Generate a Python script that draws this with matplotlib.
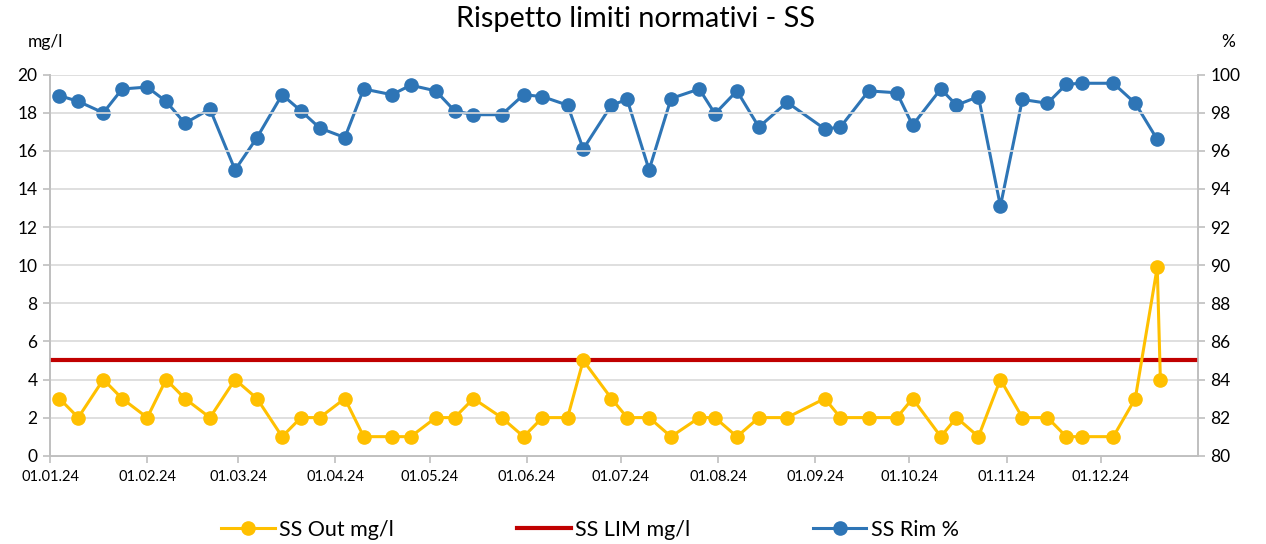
import matplotlib
matplotlib.use("Agg")
import matplotlib.pyplot as plt
from matplotlib.lines import Line2D
import numpy as np
import pandas as pd

plt.rcParams['font.family'] = ['Lato', 'DejaVu Sans']

# sampling dates (2024); the last out value has no matching removal %
dates = ['04.01', '10.01', '18.01', '24.01', '01.02', '07.02', '13.02', '21.02', '29.02',
         '07.03', '15.03', '21.03', '27.03', '04.04', '10.04', '19.04', '25.04',
         '03.05', '09.05', '15.05', '24.05', '31.05', '06.06', '14.06', '19.06',
         '28.06', '03.07', '10.07', '17.07', '26.07', '31.07', '07.08', '14.08',
         '23.08', '04.09', '09.09', '18.09', '27.09', '02.10', '11.10', '16.10',
         '23.10', '30.10', '06.11', '14.11', '20.11', '25.11', '05.12', '12.12',
         '19.12', '20.12']

ss_out = [3, 2, 4, 3, 2, 4, 3, 2, 4, 3, 1, 2, 2, 3, 1, 1, 1,
          2, 2, 3, 2, 1, 2, 2, 5, 3, 2, 2, 1, 2, 2, 1, 2,
          2, 3, 2, 2, 2, 3, 1, 2, 1, 4, 2, 2, 1, 1, 1, 3,
          9.9, 4]

ss_rim = [98.9, 98.6, 98.0, 99.25, 99.35, 98.6, 97.45, 98.2, 95.0, 96.7, 98.95,
          98.1, 97.2, 96.7, 99.25, 98.95, 99.45,
          99.15, 98.1, 97.9, 97.9, 98.95, 98.85, 98.4, 96.1, 98.4, 98.7, 95.0,
          98.75, 99.25, 97.95, 99.15, 97.25, 98.55, 97.15, 97.25,
          99.15, 99.05, 97.35, 99.25, 98.4, 98.85, 93.1, 98.7, 98.5, 99.5,
          99.55, 99.55, 98.5, 96.6]

ss_lim = 5
month_labels = ['01.01.24', '01.02.24', '01.03.24', '01.04.24', '01.05.24', '01.06.24',
                '01.07.24', '01.08.24', '01.09.24', '01.10.24', '01.11.24', '01.12.24']

x = pd.to_datetime([d + '.2024' for d in dates], format='%d.%m.%Y')
month_ticks = pd.to_datetime(month_labels, format='%d.%m.%y')
x_start = pd.Timestamp('2024-01-01')
x_end = pd.Timestamp('2025-01-01')

YELLOW = '#FFC000'
RED = '#C00000'
BLUE = '#2E75B6'
GRID = '#D9D9D9'
AXIS = '#BFBFBF'

fig = plt.figure(figsize=(12.66, 5.44), dpi=100)
ax = fig.add_axes([0.0395, 0.1623, 0.9068, 0.7004])
ax2 = ax.twinx()

ax.plot(x, ss_out, color=YELLOW, lw=2.2, marker='o', ms=9.5, zorder=3)
ax.plot([x_start, x_end], [ss_lim, ss_lim], color=RED, lw=3, zorder=2)
ax2.plot(x[:len(ss_rim)], ss_rim, color=BLUE, lw=2.2, marker='o', ms=9.5, zorder=3)

ax.set_xlim(x_start, x_end)
ax.set_ylim(0, 20)
ax.set_yticks(np.arange(0, 21, 2))
ax2.set_ylim(80, 100)
ax2.set_yticks(np.arange(80, 101, 2))

ax.set_xticks(month_ticks)
ax.set_xticklabels(month_labels)
ax.yaxis.grid(True, color=GRID, lw=1.2)
ax.set_axisbelow(True)
ax.set_zorder(ax2.get_zorder() + 1)
ax.patch.set_visible(False)

for a in (ax, ax2):
    a.spines['top'].set_visible(False)
    for s in ('left', 'right', 'bottom'):
        a.spines[s].set_color(AXIS)
        a.spines[s].set_linewidth(1.2)
    a.tick_params(axis='both', colors=AXIS, length=5, width=1.2, labelcolor='black')
ax.tick_params(axis='y', labelsize=12.5, pad=4)
ax2.tick_params(axis='y', labelsize=12.5, pad=4)
ax.tick_params(axis='x', labelsize=10.5, pad=5)

fig.text(0.502, 0.965, 'Rispetto limiti normativi - SS', ha='center', va='center', fontsize=20.8)
fig.text(0.036, 0.922, 'mg/l', ha='center', va='center', fontsize=12.5)
fig.text(0.97, 0.922, '%', ha='center', va='center', fontsize=12.5)

handles = [
    Line2D([], [], color=YELLOW, lw=2.2, marker='o', ms=9.5),
    Line2D([], [], color=RED, lw=3),
    Line2D([], [], color=BLUE, lw=2.2, marker='o', ms=9.5),
]
fig.legend(handles, ['SS Out mg/l', 'SS LIM mg/l', 'SS Rim %'], loc='center',
           bbox_to_anchor=(0.466, 0.026), ncol=3, frameon=False, fontsize=15.5,
           handlelength=2.5, handletextpad=0.2, columnspacing=5.7)

fig.savefig('out.png', dpi=100)
